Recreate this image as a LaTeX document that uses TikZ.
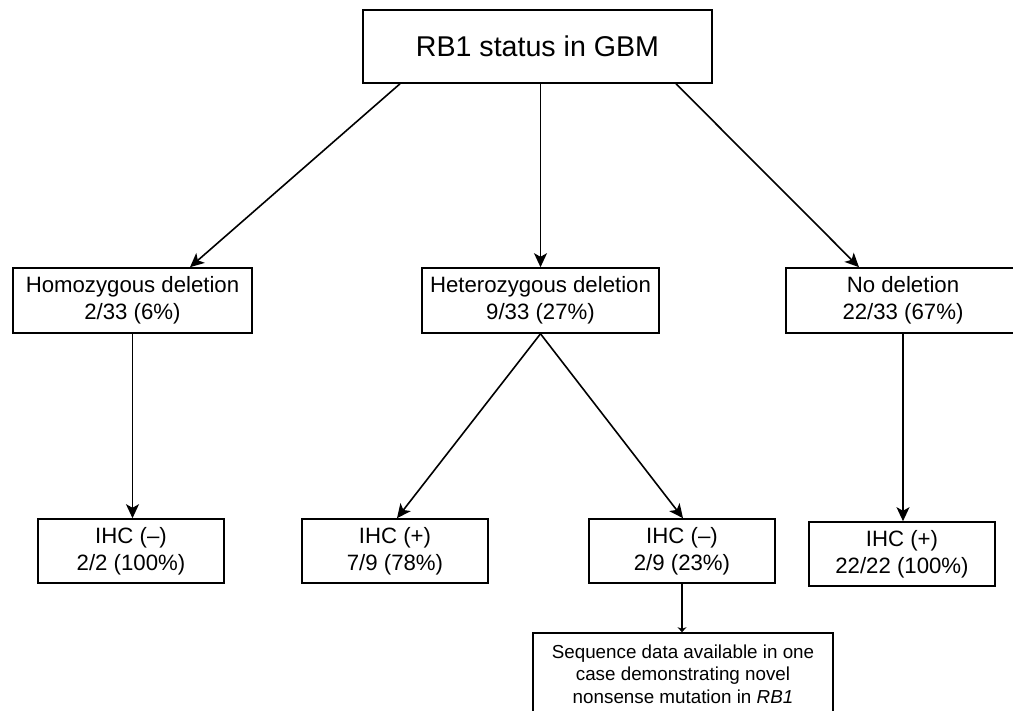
\documentclass[tikz,border=0pt]{standalone}
\usepackage{fontspec}
\setmainfont{Liberation Sans}
\usepackage{tikz}
\usetikzlibrary{positioning,arrows.meta,calc}

\begin{document}
\begin{tikzpicture}[x=0.5pt, y=0.5pt,
  box/.style={draw, line width=0.8pt, align=center, inner sep=0pt},
  lvl/.style={box, minimum height=32.5pt, font=\fontsize{11.1}{13.4}\selectfont},
  ihc/.style={box, minimum width=93pt, minimum height=32pt, font=\fontsize{11.1}{13.4}\selectfont},
  arr/.style={-{Stealth[length=7pt,width=6.5pt,inset=1.8pt]}, line width=0.8pt}]
\useasboundingbox (0,0) rectangle (1013,711);
% root
\node[box, minimum width=174.5pt, minimum height=36.5pt, font=\fontsize{14.3}{17}\selectfont] (rb) at (537.5,664.5) {RB1 status in GBM};
% deletion status
\node[lvl, minimum width=119.5pt] (homo) at (132.5,410.5) {Homozygous deletion\\2/33 (6\%)};
\node[lvl, minimum width=118.5pt] (hetero) at (540.5,410.5) {Heterozygous deletion\\9/33 (27\%)};
\node[lvl, minimum width=117pt] (nodel) at (903,410.5) {No deletion\\22/33 (67\%)};
% IHC results
\node[ihc] (ihcA) at (131,160) {IHC (--)\\2/2 (100\%)};
\node[ihc] (ihcB) at (395,160) {IHC (+)\\7/9 (78\%)};
\node[ihc] (ihcC) at (682,160) {IHC (--)\\2/9 (23\%)};
\node[ihc] (ihcD) at (902,157) {IHC (+)\\22/22 (100\%)};
\node[box, minimum width=150pt, minimum height=41pt, font=\fontsize{9.4}{11.3}\selectfont] (seq) at (683,37) {Sequence data available in one\\case demonstrating novel\\nonsense mutation in \textit{RB1}};
% arrows
\draw[arr] ($(rb.south)+(-137.5,0)$) -- ($(homo.north)+(57.5,0)$);
\draw[arr] (hetero.north |- rb.south) -- (hetero.north);
\draw[arr] ($(rb.south)+(138.5,0)$) -- ($(nodel.north)+(-44,0)$);
\draw[arr] (homo.south) -- (homo.south |- ihcA.north);
\draw[arr] (hetero.south) -- ($(ihcB.north)+(2,0)$);
\draw[arr] (hetero.south) -- ($(ihcC.north)+(1,0)$);
\draw[arr] (nodel.south) -- (nodel.south |- ihcD.north);
\draw[-{Stealth[length=2.5pt,width=4.5pt]}, line width=0.8pt] (ihcC.south) -- (ihcC.south |- seq.north);
\end{tikzpicture}
\end{document}
